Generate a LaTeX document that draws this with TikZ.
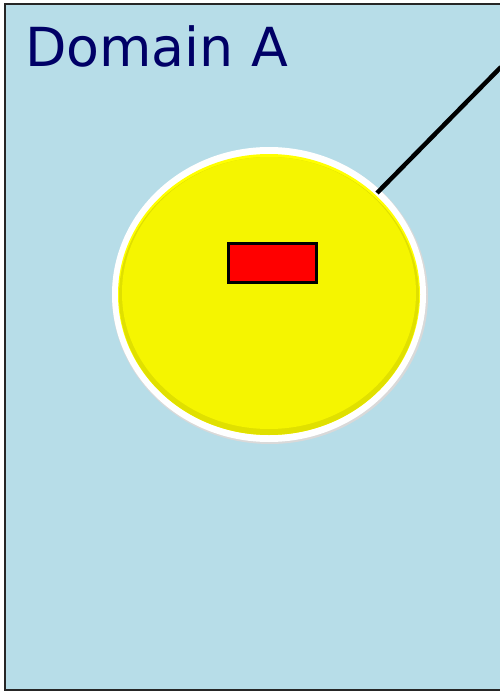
\documentclass[tikz,border=0pt]{standalone}
\usepackage{fontspec}
\setmainfont{DejaVu Sans}
\definecolor{domainfill}{HTML}{B7DDE8}
\definecolor{domaintext}{HTML}{000066}
\definecolor{cellyellow}{HTML}{F5F500}
\definecolor{celledge}{HTML}{E0E000}
\definecolor{celltop}{HTML}{FFFF00}
\begin{document}
\begin{tikzpicture}[x=1bp,y=-1bp,
  domainbox/.style={draw=black!85,line width=2bp,fill=domainfill},
  redbox/.style={draw=black,line width=2.2bp,fill=red},
  link/.style={draw=black,line width=4.5bp}]
\useasboundingbox (0,0) rectangle (500,692);
\draw[domainbox] (5,4) rectangle (520,690);
\node[anchor=base west,text=domaintext,font=\fontsize{54}{60}\selectfont,inner sep=0pt] (title) at (25,67) {Domain A};
\fill[black!15] (270,296) ellipse [x radius=158, y radius=148];
\fill[white] (269,294.5) ellipse [x radius=157, y radius=147.5];
\fill[celltop] (269,294.5) ellipse [x radius=151, y radius=140.5];
\fill[celledge] (269,296) ellipse [x radius=150, y radius=139];
\fill[cellyellow] (269,293) ellipse [x radius=147, y radius=136];
\coordinate (cellc) at (269,294.5);
\node[draw=none,minimum width=314bp,minimum height=295bp,inner sep=0pt] (cell) at (cellc) {};
\node[redbox,minimum width=88bp,minimum height=39bp,inner sep=0pt] (gene) at (272.5,263) {};
\coordinate (far) at (501,67);
\coordinate (near) at (377,193);
\draw[link] (near) -- (far);
\end{tikzpicture}
\end{document}
